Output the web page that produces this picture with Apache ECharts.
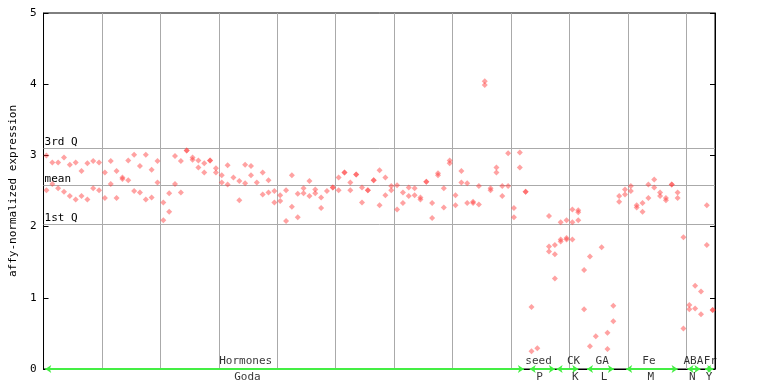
<!DOCTYPE html>
<html><head><meta charset="utf-8">
<script src="https://cdn.jsdelivr.net/npm/echarts@6/dist/echarts.min.js"></script>
<style>html,body{margin:0;padding:0;background:#fff}#c{width:768px;height:384px}</style>
</head><body><div id="c"></div>
<script>
// replicate values per sample column (column i sits at x = i + 0.5)
const rep1 = [3.00,2.90,2.90,2.97,2.87,2.90,2.78,2.89,2.92,2.90,
  2.76,2.92,2.78,2.69,2.93,3.01,2.85,3.01,2.80,2.92,
  2.34,2.47,2.99,2.92,3.07,2.97,2.93,2.89,2.93,2.82,
  2.72,2.86,2.69,2.64,2.87,2.85,2.62,2.76,2.65,2.50,
  2.44,2.51,2.72,2.46,2.54,2.64,2.52,2.41,2.50,2.55,
  2.69,2.76,2.62,2.73,2.55,2.51,2.65,2.79,2.69,2.57,
  2.58,2.48,2.55,2.54,2.41,2.63,2.33,2.75,2.54,2.93,
  2.44,2.78,2.61,2.35,2.57,4.04,2.54,2.83,2.57,3.03,
  2.26,3.04,2.49,0.87,0.29,null,2.15,1.74,2.06,2.09,
  2.24,2.23,1.39,1.58,0.46,1.71,0.51,0.89,2.43,2.52,
  2.57,2.30,2.33,2.59,2.66,2.48,2.40,2.59,2.48,1.85,
  0.90,1.17,1.09,2.30,0.83];
const rep2 = [2.51,2.60,2.54,2.49,2.43,2.38,2.43,2.38,2.54,2.51,
  2.40,2.60,2.40,2.67,2.65,2.50,2.48,2.38,2.41,2.62,
  2.09,2.21,2.60,2.48,3.07,2.94,2.83,2.76,2.93,2.76,
  2.62,2.59,null,2.37,2.61,2.72,null,2.45,2.48,2.34,
  2.36,2.08,2.28,2.13,2.47,2.43,2.47,2.26,null,2.55,
  2.51,2.76,2.51,2.73,2.34,2.51,2.65,2.30,2.44,2.51,
  2.24,2.33,2.43,2.44,2.38,2.63,2.12,2.72,2.27,2.89,
  2.30,2.62,2.33,2.33,2.31,3.99,2.51,2.76,2.43,2.57,
  2.13,2.83,2.49,0.25,null,null,1.72,1.61,1.82,1.84,
  2.06,2.20,0.84,0.32,null,null,0.28,0.67,2.35,2.45,
  2.50,2.27,2.21,2.40,2.55,2.43,2.37,2.59,2.40,0.57,
  0.84,0.85,0.77,1.74,0.83];
const rep3 = {86:1.65, 87:1.27, 88:1.79, 89:1.82, 90:1.82, 91:2.09};

const qLines = [3.10, 2.58, 2.03];
const qNames = ['3rd Q', 'mean', '1st Q'];

const groupTop = ['Hormones','seed','CK','GA','Fe','ABA','Fr'];
const groupTopX = [34.6, 84.7, 90.7, 95.6, 103.6, 111.2, 114.1];
const groupBottom = ['Goda','P','K','L','M','N','Y'];
const groupBottomX = [34.9, 84.9, 91.0, 95.9, 103.9, 111.0, 113.9];
const groupStart = [0.3, 83.2, 87.8, 93.0, 99.7, 110.2, 113.2];
const groupEnd = [82.2, 87.5, 91.5, 97.6, 108.5, 112.4, 114.6];

const yTicks = [0,1,2,3,4,5];
const xMax = 114.9;

const pts = [];
rep1.forEach((v,i)=>{ if(v!==null) pts.push([i+0.5,v]); });
rep2.forEach((v,i)=>{ if(v!==null) pts.push([i+0.5,v]); });
Object.keys(rep3).forEach(k=>{ pts.push([+k+0.5, rep3[k]]); });

const font = '"DejaVu Sans Mono", monospace';
const chart = echarts.init(document.getElementById('c'), null, {renderer:'canvas'});
chart.setOption({
  animation:false,
  grid:{left:37, top:13, width:678, height:356, show:true, borderColor:'#000', borderWidth:1, backgroundColor:'transparent'},
  xAxis:[{type:'value', min:0, max:xMax, interval:10,
    axisLine:{show:true, lineStyle:{color:'#000'}}, axisTick:{show:false}, axisLabel:{show:false},
    splitLine:{show:true, lineStyle:{color:'#aaaaaa', width:1}}}],
  yAxis:[{type:'value', min:0, max:5, interval:1,
    name:'affy-normalized expression', nameLocation:'middle', nameGap:22, nameRotate:90,
    nameTextStyle:{fontFamily:font, fontSize:11, color:'#000'},
    axisLine:{show:true, lineStyle:{color:'#000'}},
    axisTick:{show:true, inside:true, length:5, lineStyle:{color:'#000'}},
    axisLabel:{fontFamily:font, fontSize:11, color:'#000', margin:7,
      formatter:v=> yTicks.includes(v) ? String(v) : ''},
    splitLine:{show:false}},
   {type:'value', min:0, max:5, interval:1, position:'right',
    axisLine:{show:true, lineStyle:{color:'#000'}},
    axisTick:{show:true, inside:true, length:5, lineStyle:{color:'#000'}},
    axisLabel:{show:false}, splitLine:{show:false}}],
  series:[
    {type:'scatter', data:pts, symbol:'diamond', symbolSize:6,
     itemStyle:{color:'rgba(255,60,60,0.6)'}, z:5,
     markLine:{silent:true, symbol:['none','none'],
       lineStyle:{color:'#aaaaaa', width:1, type:'solid'},
       label:{show:true, position:'insideStartTop', distance:[1,1], fontFamily:font, fontSize:11, color:'#000',
         formatter:p=>p.name},
       data:qLines.map((v,k)=>({name:qNames[k], yAxis:v}))}},
    {type:'scatter', data:groupStart.map((s,k)=>[s,0]), symbolSize:0, silent:true, clip:false, z:6,
     markLine:{silent:true, symbol:['arrow','arrow'], symbolSize:[6,6],
       lineStyle:{color:'#44ee44', width:2, type:'solid'}, label:{show:false},
       data:groupStart.map((s,k)=>[{coord:[s,0]},{coord:[groupEnd[k],0]}])}},
    {type:'scatter', data:groupTopX.map((x,k)=>({value:[x,0], name:groupTop[k]})), symbolSize:1, clip:false, silent:true,
     itemStyle:{color:'transparent'}, z:7,
     label:{show:true, position:'top', distance:2, fontFamily:font, fontSize:11, color:'#000', formatter:p=>p.name}},
    {type:'scatter', data:groupBottomX.map((x,k)=>({value:[x,0], name:groupBottom[k]})), symbolSize:1, clip:false, silent:true,
     itemStyle:{color:'transparent'}, z:7,
     label:{show:true, position:'bottom', distance:2, fontFamily:font, fontSize:11, color:'#000', formatter:p=>p.name}}
  ]
});
</script></body></html>
